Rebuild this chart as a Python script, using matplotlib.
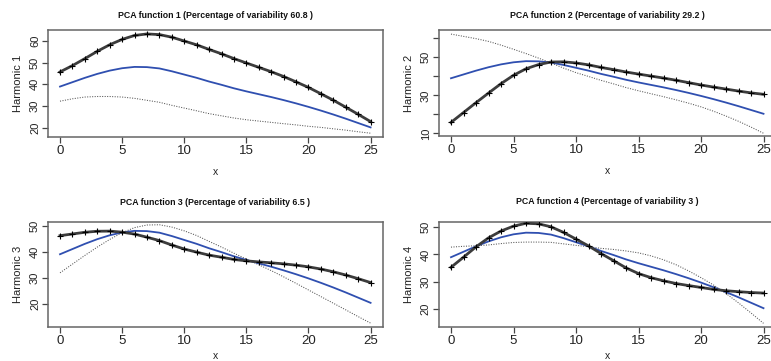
import matplotlib
matplotlib.use("Agg")
import matplotlib.pyplot as plt
import numpy as np

plt.rcParams['font.family'] = ['Liberation Sans', 'DejaVu Sans']

# argument values and the mean curve (blue line, same in every panel)
x_vals = [0, 1, 2, 3, 4, 5, 6, 7, 8, 9, 10, 11, 12, 13, 14, 15, 16, 17, 18, 19, 20, 21, 22, 23, 24, 25]
mean_curve = [39, 41, 43, 44.8, 46.3, 47.4, 48, 47.9, 47.3, 46, 44.5, 43, 41.3, 39.8, 38.2,
              36.8, 35.5, 34.2, 32.8, 31.3, 29.7, 28, 26.2, 24.3, 22.3, 20.3]

# perturbation (constant * harmonic) for each PCA function
harm1 = [6.7, 7.6, 8.8, 10.35, 11.85, 13.2, 14.4, 15.2, 15.5, 15.6, 15.35, 15.1, 14.7, 14.2, 13.6,
         13.0, 12.3, 11.6, 10.8, 9.85, 8.9, 7.7, 6.55, 5.25, 4.0, 2.65]
harm2 = [-23.25, -20.05, -16.85, -13.6, -10.15, -6.85, -4.0, -1.7, 0.25, 1.65, 2.55, 3.05, 3.4, 3.75, 4.1,
         4.4, 4.65, 4.9, 5.15, 5.4, 5.75, 6.35, 7.1, 7.95, 9.0, 10.25]
harm3 = [7.15, 5.8, 4.45, 3.05, 1.6, 0.1, -1.25, -2.35, -3.05, -3.45, -3.5, -3.2, -2.65, -1.95, -1.2,
         -0.35, 0.55, 1.5, 2.5, 3.5, 4.45, 5.3, 6.05, 6.7, 7.3, 7.8]
harm4 = [-3.7, -2.0, -0.2, 1.3, 2.3, 3.0, 3.45, 3.35, 2.85, 2.1, 1.15, 0.15, -0.95, -2.05, -3.1,
         -3.8, -4.0, -3.85, -3.45, -2.7, -1.8, -0.8, 0.5, 2.05, 3.75, 5.55]
harmonics = [harm1, harm2, harm3, harm4]
variability = ["60.8", "29.2", "6.5", "3"]

x_ticks = [0, 5, 10, 15, 20, 25]
y_ticks = [[20, 30, 40, 50, 60], [10, 20, 30, 40, 50, 60], [20, 30, 40, 50], [20, 30, 40, 50]]
y_ticklabels = [["20", "30", "40", "50", "60"], ["10", "", "30", "", "50", ""],
                ["20", "30", "40", "50"], ["20", "30", "40", "50"]]
y_limits = [(15.9, 64.9), (8.6, 64.4), (11.0, 51.6), (13.4, 52.1)]

W, H = 771, 361
# panel boxes in pixels: left, right, top, bottom
boxes = [(47.6, 383, 30, 137), (438.5, 776, 30, 136),
         (47.6, 383, 221.5, 327), (438.5, 776, 221.5, 327)]
title_y = [15, 15, 202.5, 202]
xlab_gap = [30, 30, 24, 24]

fig = plt.figure(figsize=(W / 100, H / 100), dpi=100)

xs = np.array(x_vals)
mu = np.array(mean_curve)
for i in range(4):
    l, r, t, b = boxes[i]
    ax = fig.add_axes([l / W, 1 - b / H, (r - l) / W, (b - t) / H])
    h = np.array(harmonics[i])

    ax.plot(xs, mu, color="#2f4fb0", lw=1.3, zorder=3)
    ax.plot(xs, mu - h, color="#555555", lw=0.75, ls=(0, (1, 1.4)), zorder=2)
    ax.plot(xs, mu + h, color="#3c3c3c", lw=2.0, zorder=4)
    ax.plot(xs, mu + h, ls="none", marker="+", ms=4, mew=0.8, color="black", zorder=5)

    ax.set_xlim(-1, 26)
    ax.set_ylim(*y_limits[i])
    ax.set_xticks(x_ticks)
    ax.set_xticklabels([str(v) for v in x_ticks], fontsize=9.5)
    ax.set_yticks(y_ticks[i])
    ax.set_yticklabels(y_ticklabels[i], fontsize=8, rotation=90, va="center")
    ax.tick_params(length=4, width=0.9, color="#444444", labelcolor="#222222")
    ax.tick_params(axis="x", pad=2)
    ax.tick_params(axis="y", pad=1.5)
    for sp in ax.spines.values():
        sp.set_color("#666666")
        sp.set_linewidth(1.1)

    ax.set_ylabel("Harmonic %d" % (i + 1), fontsize=8, color="#222222")
    ax.yaxis.set_label_coords(-25 / (r - l), 0.5)
    ax.set_xlabel("x", fontsize=7.5, color="#222222")
    ax.xaxis.set_label_coords(0.5, -xlab_gap[i] / (b - t))

    fig.text((l + r) / 2 / W, 1 - title_y[i] / H,
             "PCA function %d (Percentage of variability %s )" % (i + 1, variability[i]),
             ha="center", va="center", fontsize=6.3, fontweight="bold", color="#111111")

fig.savefig("out.png", dpi=100)
